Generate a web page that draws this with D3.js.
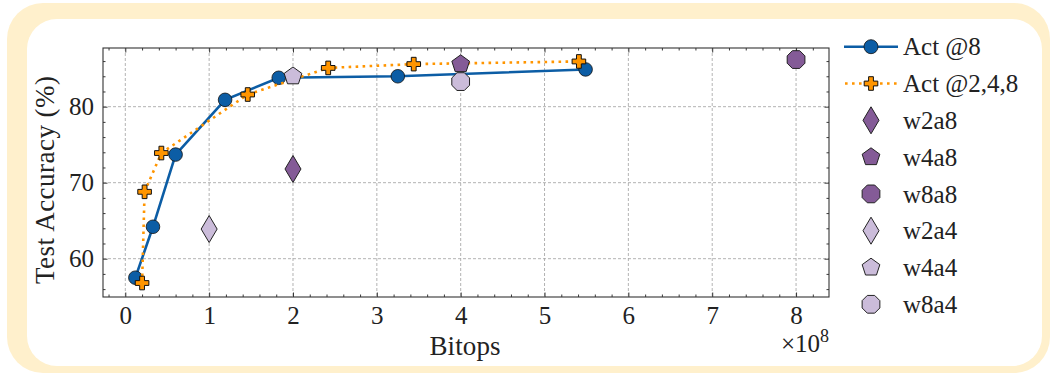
<!DOCTYPE html>
<html>
<head>
<meta charset="utf-8">
<script src="https://cdn.jsdelivr.net/npm/d3@7"></script>
<style>
  body { margin: 0; background: #fff; }
  text { font-family: "Liberation Serif", "DejaVu Serif", serif; fill: #222; }
</style>
</head>
<body>
<div id="chart"></div>
<script>
// bitops are in units of 1e8
var act8X = [0.12, 0.33, 0.60, 1.19, 1.83, 3.25, 5.49];
var act8Y = [57.5, 64.2, 73.7, 80.9, 83.8, 84.0, 84.9];
var act248X = [0.20, 0.23, 0.43, 1.46, 2.42, 3.44, 5.41];
var act248Y = [56.8, 68.8, 73.9, 81.6, 85.1, 85.6, 85.95];

var pointNames = ["w2a8", "w4a8", "w8a8", "w2a4", "w4a4", "w8a4"];
var pointX = [2, 4, 8, 1, 2, 4];
var pointY = [71.8, 85.6, 86.2, 63.9, 84.0, 83.3];
var pointShapes = ["diamond", "pentagon", "octagon", "diamond", "pentagon", "octagon"];

var xTicks = [0, 1, 2, 3, 4, 5, 6, 7, 8];
var yTicks = [60, 70, 80];

const width = 1056;
const height = 376;
const blue = "#0C5DA5";
const orange = "#FF9500";
const darkPurple = "#845B97";
const lightPurple = "#CBBCDA";

const svg = d3.select("#chart").append("svg")
    .attr("width", width)
    .attr("height", height);

// card background
svg.append("rect")
    .attr("x", 7).attr("y", 3)
    .attr("width", 1043).attr("height", 370)
    .attr("rx", 36)
    .attr("fill", "#FFF0CC");
svg.append("rect")
    .attr("x", 27).attr("y", 19)
    .attr("width", 1015).attr("height", 347)
    .attr("rx", 30)
    .attr("fill", "#fff");

const pLeft = 103, pRight = 829, pTop = 48, pBottom = 297;

var x = d3.scaleLinear().domain([-0.266, 8.393]).range([pLeft, pRight]);
var y = d3.scaleLinear().domain([54.96, 87.72]).range([pBottom, pTop]);

// grid
svg.append("g").selectAll("line")
    .data(xTicks).enter().append("line")
    .attr("x1", d => x(d)).attr("x2", d => x(d))
    .attr("y1", pTop).attr("y2", pBottom)
    .attr("stroke", "#aaa").attr("stroke-width", 0.9)
    .attr("stroke-dasharray", "3,2");
svg.append("g").selectAll("line")
    .data(yTicks).enter().append("line")
    .attr("y1", d => y(d)).attr("y2", d => y(d))
    .attr("x1", pLeft).attr("x2", pRight)
    .attr("stroke", "#aaa").attr("stroke-width", 0.9)
    .attr("stroke-dasharray", "3,2");

// minor ticks
var xMinor = d3.range(-0.2, 8.3, 0.2).filter(v => Math.abs(v - Math.round(v)) > 0.01);
var yMinor = d3.range(56, 88, 2).filter(v => v % 10 != 0);

function styleAxis(g) {
    g.select(".domain").remove();
    g.selectAll("line").attr("stroke", "#222").attr("stroke-width", 0.9);
    g.selectAll("text").attr("font-size", "25px").attr("fill", "#222")
        .style("font-family", "'Liberation Serif', serif");
}

svg.append("g").attr("transform", `translate(0,${pBottom})`)
    .call(d3.axisBottom(x).tickValues(xTicks).tickFormat(d3.format("d")).tickSizeInner(-4.5).tickSizeOuter(0).tickPadding(9))
    .call(styleAxis);
svg.append("g").attr("transform", `translate(0,${pBottom})`)
    .call(d3.axisBottom(x).tickValues(xMinor).tickFormat("").tickSizeInner(-2.5).tickSizeOuter(0))
    .call(styleAxis);
svg.append("g").attr("transform", `translate(0,${pTop})`)
    .call(d3.axisTop(x).tickValues(xTicks).tickFormat("").tickSizeInner(-4.5).tickSizeOuter(0))
    .call(styleAxis);
svg.append("g").attr("transform", `translate(0,${pTop})`)
    .call(d3.axisTop(x).tickValues(xMinor).tickFormat("").tickSizeInner(-2.5).tickSizeOuter(0))
    .call(styleAxis);
svg.append("g").attr("transform", `translate(${pLeft},0)`)
    .call(d3.axisLeft(y).tickValues(yTicks).tickFormat(d3.format("d")).tickSizeInner(-4.5).tickSizeOuter(0).tickPadding(9))
    .call(styleAxis);
svg.append("g").attr("transform", `translate(${pLeft},0)`)
    .call(d3.axisLeft(y).tickValues(yMinor).tickFormat("").tickSizeInner(-2.5).tickSizeOuter(0))
    .call(styleAxis);
svg.append("g").attr("transform", `translate(${pRight},0)`)
    .call(d3.axisRight(y).tickValues(yTicks).tickFormat("").tickSizeInner(-4.5).tickSizeOuter(0))
    .call(styleAxis);
svg.append("g").attr("transform", `translate(${pRight},0)`)
    .call(d3.axisRight(y).tickValues(yMinor).tickFormat("").tickSizeInner(-2.5).tickSizeOuter(0))
    .call(styleAxis);

svg.append("rect")
    .attr("x", pLeft).attr("y", pTop)
    .attr("width", pRight - pLeft).attr("height", pBottom - pTop)
    .attr("fill", "none").attr("stroke", "#333").attr("stroke-width", 1.1);

// marker shapes
function polygon(n, r, startDeg) {
    var pts = [];
    for (var i = 0; i < n; i++) {
        var a = (startDeg + i * 360 / n) * Math.PI / 180;
        pts.push([r * Math.cos(a), r * Math.sin(a)]);
    }
    return "M" + pts.map(p => p.join(",")).join("L") + "Z";
}
var shapePaths = {
    diamond: "M0,-13.5L8,0L0,13.5L-8,0Z",
    pentagon: polygon(5, 9.3, -90),
    octagon: polygon(8, 9.6, 22.5),
    plus: "M-2.4,-6.8H2.4V-2.4H6.8V2.4H2.4V6.8H-2.4V2.4H-6.8V-2.4H-2.4Z"
};
var shapeColors = [darkPurple, darkPurple, darkPurple, lightPurple, lightPurple, lightPurple];

var line = d3.line().x(d => x(d[0])).y(d => y(d[1]));
var act8 = d3.zip(act8X, act8Y);
var act248 = d3.zip(act248X, act248Y);

svg.append("path").datum(act8)
    .attr("d", line)
    .attr("fill", "none").attr("stroke", blue).attr("stroke-width", 2.6);
svg.append("g").selectAll("circle")
    .data(act8).enter().append("circle")
    .attr("cx", d => x(d[0])).attr("cy", d => y(d[1]))
    .attr("r", 6.8)
    .attr("fill", blue).attr("stroke", "#111").attr("stroke-width", 0.8);

svg.append("path").datum(act248)
    .attr("d", line)
    .attr("fill", "none").attr("stroke", orange).attr("stroke-width", 2.6)
    .attr("stroke-dasharray", "2.6,4.4");
svg.append("g").selectAll("path")
    .data(act248).enter().append("path")
    .attr("d", shapePaths.plus)
    .attr("transform", d => `translate(${x(d[0])},${y(d[1])})`)
    .attr("fill", orange).attr("stroke", "#111").attr("stroke-width", 1);

svg.append("g").selectAll("path")
    .data(pointNames).enter().append("path")
    .attr("d", (d, i) => shapePaths[pointShapes[i]])
    .attr("transform", (d, i) => `translate(${x(pointX[i])},${y(pointY[i])})`)
    .attr("fill", (d, i) => shapeColors[i])
    .attr("stroke", "#222").attr("stroke-width", 1);

// axis labels
svg.append("text")
    .attr("x", (pLeft + pRight) / 2 - 1).attr("y", 355)
    .attr("text-anchor", "middle")
    .attr("font-size", "27px")
    .attr("textLength", 71)
    .text("Bitops");
svg.append("text")
    .attr("transform", "translate(54,180) rotate(-90)")
    .attr("text-anchor", "middle")
    .attr("font-size", "27px")
    .attr("textLength", 208)
    .text("Test Accuracy (%)");
var mult = svg.append("text")
    .attr("x", pRight).attr("y", 352)
    .attr("text-anchor", "end")
    .attr("font-size", "25px");
mult.append("tspan").text("×10");
mult.append("tspan").attr("dy", -10).attr("font-size", "18px").text("8");

// legend
var legendNames = ["Act @8", "Act @2,4,8"].concat(pointNames);
const legX = 871, legY0 = 46.7, legStep = 36.8;
var leg = svg.append("g");
leg.append("line")
    .attr("x1", 844).attr("x2", 898).attr("y1", legY0).attr("y2", legY0)
    .attr("stroke", blue).attr("stroke-width", 2.6);
leg.append("circle")
    .attr("cx", legX).attr("cy", legY0).attr("r", 7)
    .attr("fill", blue).attr("stroke", "#111").attr("stroke-width", 0.8);
leg.append("line")
    .attr("x1", 845).attr("x2", 898).attr("y1", legY0 + legStep).attr("y2", legY0 + legStep)
    .attr("stroke", orange).attr("stroke-width", 2.6)
    .attr("stroke-dasharray", "2.6,4.4");
leg.append("path")
    .attr("d", shapePaths.plus)
    .attr("transform", `translate(${legX},${legY0 + legStep})`)
    .attr("fill", orange).attr("stroke", "#111").attr("stroke-width", 1);
pointNames.forEach((name, i) => {
    leg.append("path")
        .attr("d", shapePaths[pointShapes[i]])
        .attr("transform", `translate(${legX},${legY0 + (i + 2) * legStep})`)
        .attr("fill", shapeColors[i])
        .attr("stroke", "#222").attr("stroke-width", 1);
});
leg.selectAll("text")
    .data(legendNames).enter().append("text")
    .attr("x", 903)
    .attr("y", (d, i) => legY0 + i * legStep)
    .attr("dy", "0.35em")
    .attr("font-size", "25px")
    .text(d => d);
</script>
</body>
</html>
